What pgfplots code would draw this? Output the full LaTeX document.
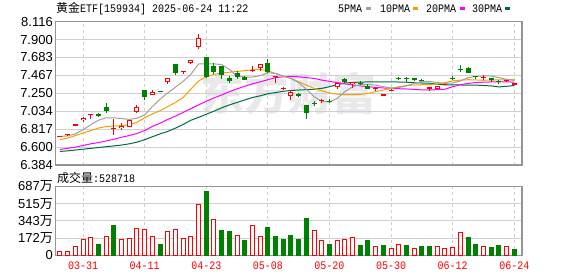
\documentclass[border=0pt]{standalone}
\usepackage{pgfplots}
\usepackage{pgfplotstable}
\pgfplotsset{compat=1.18}
\usepackage{fontspec}
\setmainfont{Liberation Sans}
\newfontfamily\cjk{Noto Sans CJK SC}
\newfontfamily\mono[FakeStretch=0.87]{Liberation Mono}
\definecolor{kred}{HTML}{FF0000}
\definecolor{kgreen}{HTML}{008000}
\definecolor{ma5}{HTML}{A0A0A0}
\definecolor{ma10}{HTML}{F5A000}
\definecolor{ma20}{HTML}{FF00FF}
\definecolor{ma30}{HTML}{006E3C}
\definecolor{gridc}{HTML}{D0D0D0}
\definecolor{framec}{HTML}{959595}
\definecolor{wmark}{HTML}{E9E9EC}

% red candles (close > open): i open high low close
\pgfplotstableread{
i o h l c
0 6.725 6.737 6.723 6.735
1 6.745 6.757 6.737 6.757
2 6.850 6.874 6.850 6.874
3 6.922 6.970 6.906 6.950
4 6.983 6.995 6.946 6.995
7 6.822 6.938 6.751 6.832
8 6.826 6.886 6.807 6.858
9 6.838 6.930 6.838 6.926
10 7.029 7.113 7.009 7.089
12 7.232 7.292 7.232 7.272
14 7.383 7.431 7.363 7.431
16 7.503 7.515 7.482 7.515
17 7.622 7.650 7.610 7.650
18 7.813 7.972 7.789 7.924
25 7.526 7.586 7.502 7.538
26 7.558 7.602 7.526 7.602
28 7.443 7.463 7.375 7.463
29 7.302 7.327 7.288 7.312
30 7.216 7.296 7.168 7.272
34 7.154 7.176 7.137 7.166
36 7.327 7.379 7.308 7.379
38 7.359 7.387 7.316 7.387
41 7.300 7.327 7.284 7.310
42 7.216 7.240 7.216 7.240
43 7.286 7.300 7.280 7.296
48 7.304 7.327 7.280 7.327
49 7.308 7.335 7.300 7.335
50 7.351 7.363 7.351 7.363
55 7.433 7.467 7.407 7.447
58 7.397 7.411 7.391 7.409
59 7.355 7.379 7.355 7.379
}\redk

% green candles (close < open)
\pgfplotstableread{
i o h l c
5 7.005 7.017 6.970 6.978
6 7.081 7.129 7.013 7.033
11 7.292 7.296 7.164 7.204
13 7.278 7.278 7.268 7.268
15 7.602 7.602 7.475 7.500
19 7.685 7.685 7.440 7.447
20 7.582 7.614 7.483 7.506
21 7.582 7.582 7.423 7.475
22 7.439 7.463 7.379 7.403
23 7.490 7.526 7.427 7.451
24 7.443 7.460 7.411 7.411
27 7.618 7.661 7.494 7.506
31 7.240 7.256 7.204 7.216
32 7.105 7.105 6.938 7.009
33 7.134 7.153 7.097 7.124
35 7.158 7.176 7.129 7.148
37 7.419 7.439 7.375 7.383
39 7.380 7.403 7.351 7.370
40 7.335 7.367 7.304 7.304
44 7.436 7.447 7.411 7.426
45 7.430 7.447 7.391 7.420
46 7.435 7.435 7.399 7.415
47 7.412 7.423 7.399 7.402
51 7.437 7.455 7.415 7.427
52 7.543 7.594 7.506 7.533
53 7.558 7.574 7.490 7.498
54 7.463 7.463 7.423 7.447
56 7.435 7.435 7.391 7.411
57 7.404 7.415 7.367 7.394
}\greenk

% moving averages
\pgfplotstableread{
i m5 m10 m20 m30
0 6.729 6.690 6.572 6.548
1 6.735 6.710 6.585 6.555
2 6.760 6.740 6.600 6.565
3 6.810 6.770 6.620 6.575
4 6.870 6.800 6.640 6.585
5 6.925 6.830 6.655 6.595
6 6.955 6.850 6.675 6.605
7 6.955 6.855 6.695 6.615
8 6.945 6.860 6.720 6.625
9 6.935 6.870 6.740 6.640
10 6.950 6.900 6.765 6.660
11 6.990 6.955 6.800 6.690
12 7.090 7.000 6.850 6.725
13 7.180 7.040 6.890 6.760
14 7.255 7.090 6.935 6.790
15 7.325 7.140 6.975 6.830
16 7.395 7.200 7.020 6.875
17 7.480 7.300 7.065 6.925
18 7.605 7.400 7.110 6.960
19 7.607 7.450 7.155 6.997
20 7.607 7.480 7.195 7.035
21 7.598 7.495 7.230 7.075
22 7.540 7.505 7.270 7.110
23 7.456 7.515 7.305 7.140
24 7.447 7.525 7.335 7.170
25 7.447 7.535 7.365 7.200
26 7.463 7.540 7.390 7.220
27 7.500 7.520 7.415 7.245
28 7.490 7.490 7.440 7.260
29 7.460 7.455 7.450 7.275
30 7.430 7.430 7.455 7.285
31 7.380 7.390 7.450 7.290
32 7.300 7.350 7.440 7.295
33 7.210 7.310 7.430 7.300
34 7.155 7.280 7.410 7.310
35 7.145 7.255 7.395 7.330
36 7.190 7.240 7.380 7.355
37 7.270 7.235 7.365 7.375
38 7.330 7.235 7.352 7.382
39 7.355 7.237 7.340 7.386
40 7.358 7.250 7.330 7.388
41 7.350 7.270 7.322 7.388
42 7.330 7.290 7.315 7.388
43 7.315 7.310 7.310 7.388
44 7.320 7.330 7.306 7.387
45 7.340 7.345 7.303 7.385
46 7.370 7.350 7.298 7.378
47 7.395 7.355 7.292 7.375
48 7.395 7.357 7.290 7.372
49 7.380 7.362 7.295 7.360
50 7.370 7.380 7.300 7.352
51 7.375 7.400 7.330 7.351
52 7.400 7.410 7.355 7.351
53 7.440 7.415 7.370 7.350
54 7.455 7.412 7.380 7.350
55 7.460 7.408 7.385 7.345
56 7.460 7.410 7.388 7.340
57 7.440 7.413 7.390 7.328
58 7.420 7.415 7.390 7.335
59 7.405 7.415 7.385 7.345
}\matab

\pgfplotsset{
  kaxis/.style={
    scale only axis, width=466.5pt,
    xmin=-0.58, xmax=60.0,
    axis line style={framec, line width=1.2pt},
    major tick length=0pt, tick style={draw=none},
    xtick={3,11,19,27,35,43,51,59},
    xmajorgrids, ymajorgrids,
    x grid style={gridc, dash pattern=on 3pt off 3pt, line width=0.9pt},
    y grid style={gridc, line width=0.9pt},
    yticklabel style={anchor=east, inner sep=0pt, xshift=-2.5pt, font=\fontsize{13}{13}\selectfont},
  },
  wick/.style={draw=none, forget plot, error bars/.cd, y dir=plus, y explicit, error mark=none,
    error bar style={draw=#1, line width=1pt}},
  body/.style 2 args={draw=none, forget plot, error bars/.cd, y dir=plus, y explicit, error mark=none,
    error bar style={draw=#1, line width=#2}},
}

\begin{document}
\begin{tikzpicture}
\path[use as bounding box] (0,0) rectangle (578pt,276pt);
% watermark
\node[text=wmark, inner sep=0pt, font=\cjk\bfseries\fontsize{44}{44}\selectfont] at (288pt,182.5pt) {东方财富};

% title and legend
\node[anchor=west, inner sep=0pt] at (56pt,267.5pt) {\cjk\fontsize{12}{12}\selectfont 黄金{\mono\fontsize{11.5}{12}\selectfont ETF[159934] 2025-06-24 11:22}};
\begin{scope}[font=\mono\fontsize{11.5}{12}\selectfont]
\node[anchor=west, inner sep=0pt] at (338pt,267pt) {5PMA};
\fill[ma5] (366pt,265.5pt) rectangle (371pt,268.5pt);
\node[anchor=west, inner sep=0pt] at (380pt,267pt) {10PMA};
\fill[ma10] (413pt,265.5pt) rectangle (418pt,268.5pt);
\node[anchor=west, inner sep=0pt] at (426pt,267pt) {20PMA};
\fill[ma20] (460pt,265.5pt) rectangle (465pt,268.5pt);
\node[anchor=west, inner sep=0pt] at (472pt,267pt) {30PMA};
\fill[ma30] (505pt,265.5pt) rectangle (510pt,268.5pt);
\end{scope}
\node[anchor=west, inner sep=0pt] at (57pt,98pt) {\cjk\fontsize{12}{12}\selectfont 成交量{\mono\fontsize{11.5}{12}\selectfont :528718}};

% price panel
\begin{axis}[kaxis, at={(55.5pt,111pt)}, anchor=south west, height=143.3pt,
  ymin=6.384, ymax=8.116,
  ytick={6.384,6.600,6.817,7.034,7.250,7.467,7.683,7.900,8.116},
  yticklabels={6.384,6.600,6.817,7.034,7.250,7.467,7.683,7.900,8.116},
  xticklabels={}]
\addplot[ma30, line width=1pt] table[x=i, y=m30] {\matab};
\addplot[ma20, line width=1pt] table[x=i, y=m20] {\matab};
\addplot[ma10, line width=1pt] table[x=i, y=m10] {\matab};
\addplot[ma5, line width=1pt] table[x=i, y=m5] {\matab};
% green candles
\addplot[wick=kgreen] table[x=i, y=l, y error expr=\thisrow{h}-\thisrow{l}] {\greenk};
\addplot[body={kgreen}{5pt}] table[x=i, y=c, y error expr=\thisrow{o}-\thisrow{c}] {\greenk};
% red candles
\addplot[wick=kred] table[x=i, y=l, y error expr=\thisrow{h}-\thisrow{l}] {\redk};
\addplot[body={kred}{5pt}] table[x=i, y=o, y error expr=\thisrow{c}-\thisrow{o}] {\redk};
\addplot[body={white}{3pt}] table[x=i, y expr=\thisrow{o}+0.012, y error expr={max(\thisrow{c}-\thisrow{o}-0.024,0)}] {\redk};
\end{axis}

% volume panel
\begin{axis}[kaxis, at={(55.5pt,20.7pt)}, anchor=south west, height=69pt,
  ymin=0, ymax=687, ytick={0,172,343,515,687},
  yticklabels={0,172{\cjk 万},343{\cjk 万},515{\cjk 万},687{\cjk 万}},
  xticklabels={03-31,04-11,04-23,05-08,05-20,05-30,06-12,06-24},
  xticklabel style={text=kred, font=\mono\fontsize{11.5}{12}\selectfont, anchor=north, inner sep=0pt, yshift=-6pt}]
\addplot[ybar, bar width=4pt, bar shift=0pt, draw=kred, fill=white, line width=1pt] coordinates {
(0,36) (1,36) (2,86) (3,156) (4,176) (6,186) (8,156) (9,166) (10,266) (11,256) (12,186)
(14,236) (15,256) (16,166) (17,186) (18,505) (20,355) (23,199) (25,299) (26,186) (33,249)
(34,149) (36,149) (37,159) (38,179) (41,90) (43,70) (44,110) (46,70) (49,90) (50,70)
(51,80) (52,229) (55,90) (58,90)};
\addplot[ybar, bar width=4pt, bar shift=0pt, draw=kgreen, fill=kgreen, line width=1pt] coordinates {
(5,110) (7,299) (13,110) (19,637) (21,249) (22,239) (24,149) (27,279) (28,189) (29,159)
(30,199) (31,159) (32,369) (35,110) (39,100) (40,149) (42,100) (45,100) (47,90) (48,90)
(53,179) (54,110) (56,80) (57,100) (59,53)};
\end{axis}
\end{tikzpicture}
\end{document}
